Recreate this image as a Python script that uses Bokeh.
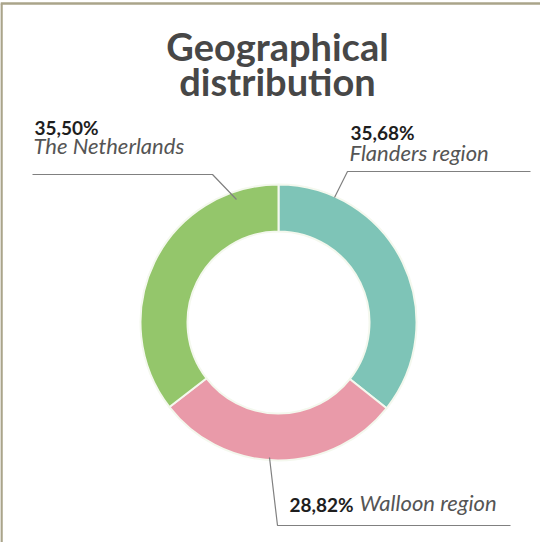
import math
from bokeh.plotting import figure
from bokeh.models import Range1d, ColumnDataSource
from bokeh.core.properties import value
from bokeh.embed import file_html
from bokeh.resources import INLINE

# ---- data ----
regions = ["Flanders region", "Walloon region", "The Netherlands"]
shares = [35.68, 28.82, 35.50]
share_labels = ["35,68%", "28,82%", "35,50%"]
colors = ["#7ec4b7", "#e99aa9", "#94c66b"]
title_lines = ["Geographical", "distribution"]

W, H = 540, 542
OFF = 8  # page margin; image px -> figure px


def fx(x):
    return x - OFF


def fy(y):
    return H - (y - OFF)


p = figure(width=W, height=H, output_backend="svg", toolbar_location=None,
           x_range=Range1d(0, W), y_range=Range1d(0, H), min_border=0)
p.axis.visible = False
p.grid.visible = False
p.outline_line_color = None
p.background_fill_color = "white"
p.border_fill_color = "white"

# frame lines (top and left)
p.segment(x0=[fx(8), fx(9)], y0=[fy(11), fy(11)], x1=[fx(556), fx(9)], y1=[fy(11), fy(558)],
          line_color="#aaa48a", line_width=2.5)

# donut
cx, cy = fx(286), fy(330)
total = sum(shares)
starts, ends = [], []
cum = 0.0
for s in shares:
    a0 = math.pi / 2 - 2 * math.pi * (cum + s) / total
    a1 = math.pi / 2 - 2 * math.pi * cum / total
    starts.append(a0)
    ends.append(a1)
    cum += s
src = ColumnDataSource(dict(x=[cx] * 3, y=[cy] * 3, start=starts, end=ends, color=colors))
p.annular_wedge(x="x", y="y", inner_radius=91, outer_radius=138, start_angle="start",
                end_angle="end", fill_color="color", line_color="#f4f8ee", line_width=2,
                source=src)

# title
p.text(x=[fx(285), fx(285)], y=[fy(53), fy(88)], text=title_lines,
       text_font=value("Lato"), text_font_style="bold", text_font_size="38px",
       text_color="#474747", text_align="center", text_baseline="alphabetic")

# leader lines
p.line(x=[fx(40), fx(220), fx(244)], y=[fy(182), fy(182), fy(207)], line_color="#808080", line_width=1.2)
p.line(x=[fx(342), fx(355), fx(538)], y=[fy(205), fy(179), fy(179)], line_color="#808080", line_width=1.2)
p.line(x=[fx(277), fx(285), fx(518)], y=[fy(465), fy(533), fy(533)], line_color="#808080", line_width=1.2)

# labels: percentages (bold)
p.text(x=[fx(358), fx(297), fx(42)], y=[fy(140), fy(512), fy(135)], text=share_labels,
       text_font=value("Lato"), text_font_style="bold", text_font_size="19px",
       text_color="#1e1e1e", text_baseline="alphabetic")
# labels: region names (italic)
p.text(x=[fx(357), fx(367), fx(41)], y=[fy(160), fy(510), fy(153)], text=regions,
       text_font=value("Lato"), text_font_style="italic", text_font_size="22px",
       text_color="#555555", text_baseline="alphabetic")

open("out.html", "w").write(file_html(p, INLINE))
